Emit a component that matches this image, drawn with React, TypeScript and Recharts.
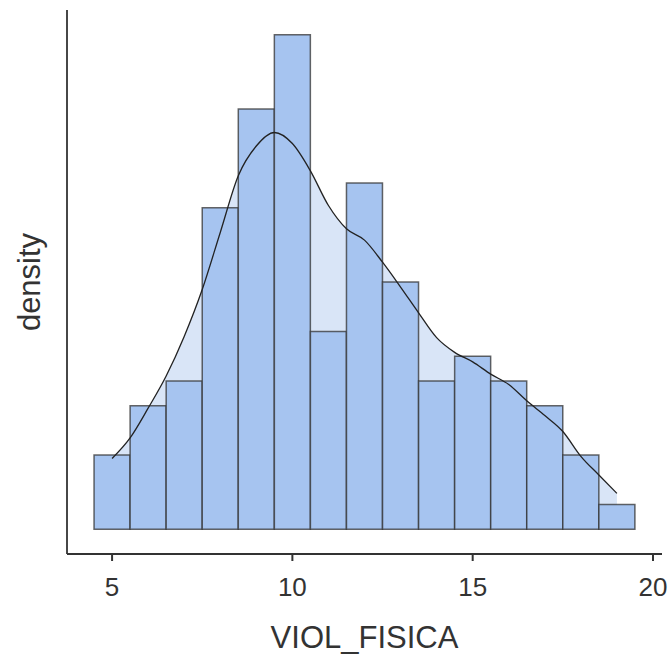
import { ComposedChart, Bar, Area, Line, XAxis, YAxis } from "recharts";

// histogram bins (width 1), counts
const binCenters = [5, 6, 7, 8, 9, 10, 11, 12, 13, 14, 15, 16, 17, 18, 19];
const binCounts = [3, 5, 6, 13, 17, 20, 8, 14, 10, 6, 7, 6, 5, 3, 1];

// kernel density estimate
const curveX = [
  5, 5.5, 6, 6.5, 7, 7.5, 8, 8.5, 9, 9.5, 10, 10.5, 11, 11.5, 12, 12.5, 13,
  13.5, 14, 14.5, 15, 15.5, 16, 16.5, 17, 17.5, 18, 18.5, 19,
];
const curveDensity = [
  0.0231, 0.0298, 0.0395, 0.05, 0.0629, 0.0782, 0.0968, 0.1153, 0.125, 0.1294,
  0.1258, 0.1169, 0.1056, 0.098, 0.0943, 0.0871, 0.079, 0.0706, 0.0625, 0.0577,
  0.0546, 0.0506, 0.0472, 0.0419, 0.0371, 0.0319, 0.0238, 0.0177, 0.0117,
];

const xTicks = [5, 10, 15, 20];

const binWidth = 1;
const total = binCounts.reduce((a, b) => a + b, 0);
const bins = binCenters.map((bin, i) => ({
  bin,
  density: binCounts[i] / (total * binWidth),
}));
const curve = curveX.map((x, i) => ({ x, density: curveDensity[i] }));

// ggplot-style 5% expansion
const xLo = binCenters[0] - binWidth / 2;
const xHi = binCenters[binCenters.length - 1] + binWidth / 2;
const xPad = (xHi - xLo) * 0.05;
const xDomain = [xLo - xPad, xHi + xPad];
const yTop = Math.max(...bins.map((b) => b.density), ...curveDensity);
const yDomain = [-yTop * 0.05, yTop * 1.05];

const textColor = "#333333";
const lineColor = "#333333";

const XTitle = (props: any) => {
  const { x, y, width, height } = props.viewBox;
  return (
    <text x={x + width / 2} y={y + height - 13} textAnchor="middle" fontSize={31} fill={textColor}>
      VIOL_FISICA
    </text>
  );
};

const YTitle = (props: any) => {
  const { y, height } = props.viewBox;
  const cx = 40;
  const cy = y + height / 2;
  return (
    <text x={cx} y={cy} transform={`rotate(-90, ${cx}, ${cy})`} textAnchor="middle" fontSize={31} fill={textColor}>
      density
    </text>
  );
};

export default function App() {
  return (
    <div
      style={{
        position: "absolute",
        left: 0,
        top: 0,
        width: 669,
        height: 661,
        background: "#fff",
        fontFamily: "'Liberation Sans', Arial, sans-serif",
      }}
    >
      <ComposedChart
        width={669}
        height={661}
        data={bins}
        margin={{ top: 10, right: 7, left: 0, bottom: 0 }}
        barCategoryGap={0}
        barGap={0}
      >
        <XAxis
          xAxisId="x"
          dataKey="x"
          type="number"
          domain={xDomain}
          allowDataOverflow
          ticks={xTicks}
          height={107}
          tickSize={7}
          tickMargin={17}
          tick={{ fontSize: 26, fill: textColor }}
          axisLine={{ stroke: lineColor, strokeWidth: 1.8 }}
          tickLine={{ stroke: lineColor, strokeWidth: 2 }}
          label={{ content: XTitle }}
        />
        <XAxis xAxisId="bins" dataKey="bin" type="number" domain={xDomain} allowDataOverflow hide height={0} />
        <YAxis
          type="number"
          domain={yDomain}
          allowDataOverflow
          width={67}
          tick={false}
          tickLine={false}
          axisLine={{ stroke: lineColor, strokeWidth: 1.8 }}
          label={{ content: YTitle }}
        />
        <Area
          xAxisId="x"
          data={curve}
          dataKey="density"
          type="monotone"
          fill="#D9E5F7"
          fillOpacity={1}
          stroke="none"
          baseValue={0}
          isAnimationActive={false}
        />
        <Bar
          xAxisId="bins"
          dataKey="density"
          fill="#A6C4F0"
          stroke="#333333"
          strokeOpacity={0.75}
          strokeWidth={1.5}
          isAnimationActive={false}
        />
        <Line
          xAxisId="x"
          data={curve}
          dataKey="density"
          type="monotone"
          stroke="#222222"
          strokeWidth={1.3}
          dot={false}
          isAnimationActive={false}
        />
      </ComposedChart>
    </div>
  );
}
